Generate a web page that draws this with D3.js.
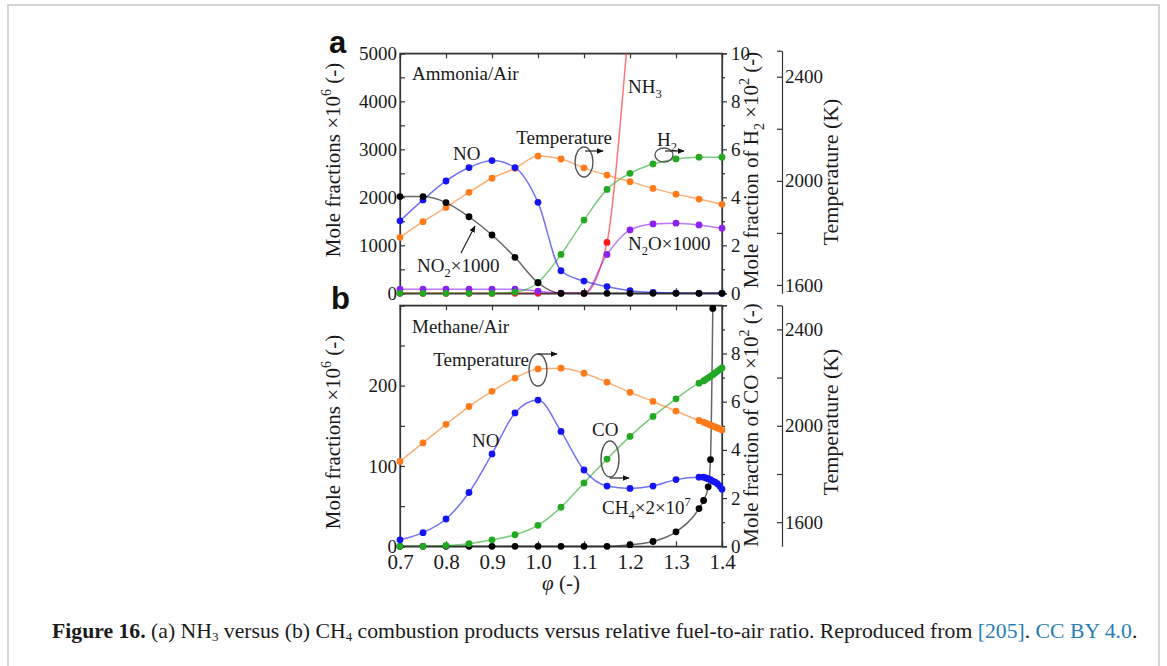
<!DOCTYPE html>
<html>
<head>
<meta charset="utf-8">
<script src="https://cdn.jsdelivr.net/npm/d3@7"></script>
<style>
  body { margin: 0; background: #fff; }
  svg text { font-family: "Liberation Serif", "Times New Roman", serif; fill: #1a1a1a; }
  svg text.letter { font-family: "Liberation Sans", Arial, sans-serif; font-weight: bold; fill: #111; }
</style>
</head>
<body>
<svg id="fig" width="1167" height="666"></svg>
<script>
// ---- data ----
const phi = [0.70, 0.75, 0.80, 0.85, 0.90, 0.95, 1.00, 1.05, 1.10, 1.15, 1.20, 1.25, 1.30, 1.35, 1.40];

// (a) ammonia / air
const nh3NO = [1510, 1945, 2340, 2620, 2765, 2620, 1895, 470, 255, 140, 55, 20, 5, 0, 0];
const nh3NO2x1000 = [2015, 2015, 1890, 1595, 1215, 750, 220, 0, 0, 0, 0, 0, 0, 0, 0];
const nh3N2Ox1000 = [85, 85, 85, 85, 85, 85, 45, 5, 0, 810, 1320, 1445, 1460, 1425, 1355];
const nh3NH3 = [0, 0, 0, 0, 0, 0, 0, 0, 0, 1060, 5800, 10500, 15000, 19000, 23000];
const nh3H2 = [0, 0, 0, 0, 0, 0.05, 0.45, 1.62, 3.05, 4.33, 5.0, 5.39, 5.6, 5.67, 5.67];
const nh3Temp = [1783, 1843, 1898, 1956, 2010, 2048, 2095, 2084, 2050, 2022, 1997, 1971, 1949, 1930, 1910];

// (b) methane / air (finer steps near phi = 1.4)
const phiM = [0.70, 0.75, 0.80, 0.85, 0.90, 0.95, 1.00, 1.05, 1.10, 1.15, 1.20, 1.25, 1.30,
              1.35, 1.36, 1.365, 1.37, 1.375, 1.38, 1.385, 1.39, 1.395, 1.40];
const ch4NO = [8, 17, 34, 67, 115, 166, 182, 143, 95, 75, 72, 75, 83,
               86, 86, 85, 84, 83, 81, 80, 78, 75, 71];
const ch4CO = [0, 0, 0.03, 0.11, 0.27, 0.48, 0.87, 1.62, 2.63, 3.62, 4.56, 5.39, 6.12,
               6.77, 6.86, 6.93, 6.99, 7.05, 7.12, 7.19, 7.26, 7.33, 7.40];
const ch4Temp = [1852, 1929, 2006, 2080, 2143, 2198, 2236, 2239, 2218, 2181, 2139, 2101, 2061,
                 2022, 2015, 2011, 2007, 2003, 1999, 1995, 1991, 1987, 1983];
const phiCH4 = [0.70, 0.75, 0.80, 0.85, 0.90, 0.95, 1.00, 1.05, 1.10, 1.15, 1.20, 1.25, 1.30,
                1.35, 1.36, 1.37, 1.375, 1.38];
const ch4CH4x2e7 = [0, 0, 0, 0, 0, 0, 0, 0, 0, 0, 2, 6, 18, 47, 57, 74, 108, 296];

const phiTicks = [0.7, 0.8, 0.9, 1.0, 1.1, 1.2, 1.3, 1.4];

// ---- colours ----
const C = {
  blue: "#1414f5", orange: "#ff7a1a", green: "#22a822", black: "#000000",
  purple: "#8a22f0", red: "#ff1a1a"
};

const svg = d3.select("#fig");

// outer frame
svg.append("rect").attr("x", 8).attr("y", 5).attr("width", 1151).attr("height", 720)
  .attr("fill", "none").attr("stroke", "#c8c8c8").attr("stroke-width", 1.5);

const x = d3.scaleLinear().domain([0.7, 1.4]).range([400, 722]);

// rich text: parts = [[text, "n"|"sub"|"sup"], ...]
function rich(sel, parts, size) {
  let shift = 0;
  parts.forEach(([t, k]) => {
    const target = k === "sub" ? size * 0.28 : k === "sup" ? -size * 0.42 : 0;
    sel.append("tspan")
      .attr("dy", target - shift)
      .attr("font-size", k === "n" ? size : size * 0.66)
      .text(t);
    shift = target;
  });
  return sel;
}

function label(g, px, py, parts, size, anchor) {
  const t = g.append("text").attr("x", px).attr("y", py)
    .attr("font-size", size).attr("text-anchor", anchor || "start");
  return rich(t, parts, size);
}

function vtitle(g, cx, cy, parts, size) {
  const t = g.append("text")
    .attr("transform", `translate(${cx},${cy}) rotate(-90)`)
    .attr("text-anchor", "middle").attr("dy", "0.35em").attr("font-size", size);
  return rich(t, parts, size);
}

function series(g, xs, ys, yScale, color, clipId) {
  const pts = xs.map((v, i) => [v, ys[i]]);
  const line = d3.line().x(d => x(d[0])).y(d => yScale(d[1])).curve(d3.curveMonotoneX);
  g.append("path")
    .attr("d", line(pts))
    .attr("clip-path", `url(#${clipId})`)
    .attr("fill", "none").attr("stroke", color)
    .attr("stroke-opacity", 0.6).attr("stroke-width", 1.5);
  const [d0, d1] = yScale.domain();
  g.selectAll(null)
    .data(pts.filter(d => d[1] <= d1 + 1e-9 && d[1] >= d0))
    .enter().append("circle")
    .attr("cx", d => x(d[0])).attr("cy", d => yScale(d[1]))
    .attr("r", 3.4).attr("fill", color);
}

function styleAxis(a, size) {
  a.attr("font-size", size).attr("font-family", null);
  a.selectAll("path,line").attr("stroke", "#333").attr("stroke-width", 1.2);
  a.selectAll("text").attr("fill", "#1a1a1a");
}

function ellipseArrow(g, cx, cy, rx, ry, ax0, ax1, ay) {
  g.append("ellipse").attr("cx", cx).attr("cy", cy).attr("rx", rx).attr("ry", ry)
    .attr("fill", "none").attr("stroke", "#555").attr("stroke-width", 1.4);
  arrow(g, ax0, ay, ax1, ay);
}

function arrow(g, x0, y0, x1, y1) {
  g.append("line").attr("x1", x0).attr("y1", y0).attr("x2", x1).attr("y2", y1)
    .attr("stroke", "#222").attr("stroke-width", 1.2).attr("marker-end", "url(#head)");
}

const defs = svg.append("defs");
defs.append("marker").attr("id", "head").attr("viewBox", "0 0 10 10")
  .attr("refX", 9).attr("refY", 5).attr("markerWidth", 7).attr("markerHeight", 7)
  .attr("markerUnits", "userSpaceOnUse").attr("orient", "auto")
  .append("path").attr("d", "M0,1 L10,5 L0,9 Z").attr("fill", "#111");

// generic panel frame + axes
function panel(cfg) {
  const g = svg.append("g");
  const top = cfg.top, bot = cfg.bottom;
  defs.append("clipPath").attr("id", cfg.id)
    .append("rect").attr("x", 400).attr("y", top).attr("width", 322).attr("height", bot - top);

  g.append("rect").attr("x", 400).attr("y", top).attr("width", 322).attr("height", bot - top)
    .attr("fill", "none").attr("stroke", "#333").attr("stroke-width", 1.2);

  // left
  const aL = g.append("g").attr("transform", "translate(400,0)")
    .call(d3.axisLeft(cfg.yL).tickValues(cfg.leftTicks).tickSize(-5).tickPadding(3)
      .tickFormat(d => cfg.leftLabels.includes(d) ? d : ""));
  styleAxis(aL, 19);
  // top and bottom phi ticks
  const aT = g.append("g").attr("transform", `translate(0,${top})`)
    .call(d3.axisTop(x).tickValues(phiTicks).tickSize(-5).tickFormat(""));
  styleAxis(aT, 19);
  const aB = g.append("g").attr("transform", `translate(0,${bot})`)
    .call(d3.axisBottom(x).tickValues(phiTicks).tickSize(-5).tickPadding(8)
      .tickFormat(cfg.xLabels ? d3.format(".1f") : ""));
  styleAxis(aB, 21);
  // right (mole fraction x 10^2)
  const aR = g.append("g").attr("transform", "translate(722,0)")
    .call(d3.axisRight(cfg.yR).tickValues(d3.range(0, 11)).tickSize(5).tickPadding(4)
      .tickFormat(d => cfg.rightLabels.includes(d) ? d : ""));
  styleAxis(aR, 19);
  aR.selectAll(".tick line").attr("x2", d => d % 2 ? 3 : 5);
  // temperature
  const aTemp = g.append("g").attr("transform", "translate(782,0)")
    .call(d3.axisRight(cfg.yT).tickValues(cfg.tempTicks).tickSize(-5).tickSizeOuter(0).tickPadding(3)
      .tickFormat(d => [1600, 2000, 2400].includes(d) ? d : ""));
  styleAxis(aTemp, 19);
  return g;
}

// ---------------- (a) ammonia ----------------
const yLa = d3.scaleLinear().domain([0, 5000]).range([293.3, 53.3]);
const yRa = d3.scaleLinear().domain([0, 10]).range([293.3, 53.3]);
const yTa = d3.scaleLinear().domain([1568, 2500]).range([293.3, 50.7]);

const ga = panel({
  id: "clipA", top: 53.3, bottom: 293.3, yL: yLa, yR: yRa, yT: yTa,
  leftTicks: d3.range(0, 5001, 500), leftLabels: [0, 1000, 2000, 3000, 4000, 5000],
  rightLabels: [0, 2, 4, 6, 8, 10], tempTicks: [1600, 1800, 2000, 2200, 2400, 2500],
  xLabels: false
});

series(ga, phi, nh3NH3, yLa, C.red, "clipA");
series(ga, phi, nh3N2Ox1000, yLa, C.purple, "clipA");
series(ga, phi, nh3H2, yRa, C.green, "clipA");
series(ga, phi, nh3Temp, yTa, C.orange, "clipA");
series(ga, phi, nh3NO, yLa, C.blue, "clipA");
series(ga, phi, nh3NO2x1000, yLa, C.black, "clipA");

label(ga, 412, 80, [["Ammonia/Air", "n"]], 19);
label(ga, 453, 160, [["NO", "n"]], 19);
label(ga, 612, 144, [["Temperature", "n"]], 19, "end");
label(ga, 657, 146, [["H", "n"], ["2", "sub"]], 19);
label(ga, 628, 93, [["NH", "n"], ["3", "sub"]], 19);
label(ga, 628, 250, [["N", "n"], ["2", "sub"], ["O×1000", "n"]], 19);
label(ga, 417, 272, [["NO", "n"], ["2", "sub"], ["×1000", "n"]], 19);
arrow(ga, 461, 253, 475, 226);
ellipseArrow(ga, 584, 162, 9, 15, 585, 603, 151);
ellipseArrow(ga, 664, 155, 9, 7, 665, 684, 151);

vtitle(ga, 340, 160, [["Mole fractions ×10", "n"], ["6", "sup"], [" (-)", "n"]], 21);
vtitle(ga, 758, 170, [["Mole fraction of H", "n"], ["2", "sub"], [" ×10", "n"], ["2", "sup"], [" (-)", "n"]], 21);
vtitle(ga, 838, 172, [["Temperature (K)", "n"]], 22);

// ---------------- (b) methane ----------------
const yLb = d3.scaleLinear().domain([0, 300]).range([546.3, 305.3]);
const yRb = d3.scaleLinear().domain([0, 10]).range([546.3, 305.3]);
const yTb = d3.scaleLinear().domain([1500, 2500]).range([546.3, 305.3]);

const gb = panel({
  id: "clipB", top: 305.3, bottom: 546.3, yL: yLb, yR: yRb, yT: yTb,
  leftTicks: d3.range(0, 301, 50), leftLabels: [0, 100, 200],
  rightLabels: [0, 2, 4, 6, 8], tempTicks: [1600, 1800, 2000, 2200, 2400, 2500],
  xLabels: true
});

series(gb, phiCH4, ch4CH4x2e7, yLb, C.black, "clipB");
series(gb, phiM, ch4CO, yRb, C.green, "clipB");
series(gb, phiM, ch4NO, yLb, C.blue, "clipB");
series(gb, phiM, ch4Temp, yTb, C.orange, "clipB");

label(gb, 412, 333, [["Methane/Air", "n"]], 19);
label(gb, 529, 366, [["Temperature", "n"]], 19, "end");
label(gb, 472, 447, [["NO", "n"]], 19);
label(gb, 592, 436, [["CO", "n"]], 19);
label(gb, 602, 514, [["CH", "n"], ["4", "sub"], ["×2×10", "n"], ["7", "sup"]], 19);
ellipseArrow(gb, 538, 370, 9, 16, 538, 557, 354);
ellipseArrow(gb, 610, 459, 9, 18, 610, 629, 478);

vtitle(gb, 340, 432, [["Mole fractions ×10", "n"], ["6", "sup"], [" (-)", "n"]], 21);
vtitle(gb, 758, 425, [["Mole fraction of CO ×10", "n"], ["2", "sup"], [" (-)", "n"]], 21);
vtitle(gb, 838, 422, [["Temperature (K)", "n"]], 22);

// phi label
const phiLab = svg.append("text").attr("x", 561).attr("y", 590)
  .attr("text-anchor", "middle").attr("font-size", 21);
phiLab.append("tspan").attr("font-style", "italic").text("φ");
phiLab.append("tspan").text(" (-)");

// panel letters
svg.append("text").attr("class", "letter").attr("x", 329).attr("y", 53)
  .attr("font-size", 31).text("a");
svg.append("text").attr("class", "letter").attr("x", 331).attr("y", 309)
  .attr("font-size", 31).text("b");

// caption
const cap = svg.append("text").attr("x", 52).attr("y", 638).attr("font-size", 19);
cap.append("tspan").attr("font-weight", "bold").text("Figure 16.");
cap.append("tspan").text(" (a) NH");
cap.append("tspan").attr("font-size", 13).attr("dy", 3).text("3");
cap.append("tspan").attr("dy", -3).text(" versus (b) CH");
cap.append("tspan").attr("font-size", 13).attr("dy", 3).text("4");
cap.append("tspan").attr("dy", -3).text(" combustion products versus relative fuel-to-air ratio. Reproduced from ");
cap.append("tspan").style("fill", "#2a7db5").text("[205]");
cap.append("tspan").text(". ");
cap.append("tspan").style("fill", "#2a7db5").text("CC BY 4.0");
cap.append("tspan").text(".");
// fit caption width to the reference span
const w = cap.node().getComputedTextLength();
cap.attr("font-size", 19 * 1088 / w);
</script>
</body>
</html>
